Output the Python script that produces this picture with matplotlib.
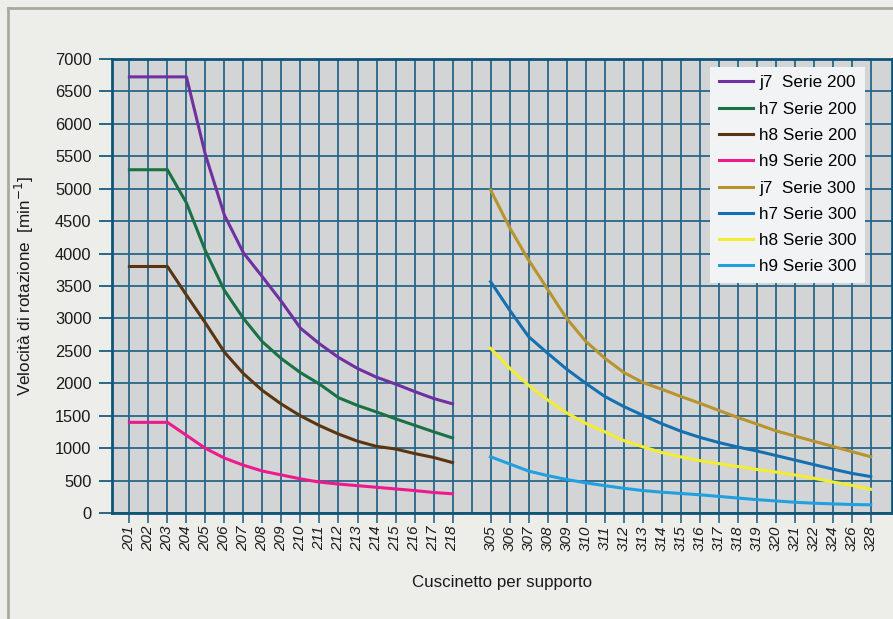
import matplotlib
matplotlib.use("Agg")
import matplotlib.pyplot as plt
from matplotlib.lines import Line2D

plt.rcParams['font.family'] = ['Liberation Sans', 'DejaVu Sans']

# bearing designations (x categories)
serie_200 = ['201', '202', '203', '204', '205', '206', '207', '208', '209',
             '210', '211', '212', '213', '214', '215', '216', '217', '218']
serie_300 = ['305', '306', '307', '308', '309', '310', '311', '312', '313',
             '314', '315', '316', '317', '318', '319', '320', '321', '322',
             '324', '326', '328']

# speeds [min^-1]
j7_200 = [6720, 6720, 6720, 6720, 5520, 4590, 4010, 3640, 3260, 2850,
          2610, 2400, 2230, 2095, 1990, 1875, 1768, 1685]
h7_200 = [5290, 5290, 5290, 4780, 4040, 3430, 3000, 2640, 2380, 2165,
          1990, 1780, 1660, 1560, 1455, 1355, 1255, 1160]
h8_200 = [3800, 3800, 3800, 3360, 2930, 2480, 2150, 1890, 1680, 1500,
          1350, 1220, 1110, 1030, 990, 920, 860, 780]
h9_200 = [1400, 1400, 1400, 1200, 1000, 850, 740, 650, 590, 530,
          480, 450, 425, 400, 375, 350, 320, 300]

j7_300 = [4980, 4400, 3900, 3450, 3000, 2650, 2390, 2170, 2015, 1910,
          1800, 1695, 1585, 1475, 1375, 1270, 1190, 1110, 1030, 950, 870]
h7_300 = [3567, 3130, 2720, 2465, 2220, 2003, 1800, 1645, 1510, 1380,
          1265, 1170, 1090, 1020, 960, 890, 820, 750, 680, 615, 565]
h8_300 = [2540, 2235, 1970, 1745, 1545, 1385, 1255, 1120, 1025, 935,
          868, 810, 765, 720, 675, 635, 590, 540, 482, 430, 370]
h9_300 = [870, 760, 650, 580, 520, 470, 425, 385, 350, 325,
          305, 285, 260, 235, 210, 190, 170, 155, 145, 135, 130]

x200 = list(range(len(serie_200)))
gap = len(serie_200) + 1          # one empty slot between the two series
x300 = [gap + i for i in range(len(serie_300))]

grid_col = '#2a6688'
frame_col = '#0e5578'
txt_col = '#1a1a1a'

fig = plt.figure(figsize=(8.93, 6.19), dpi=100, facecolor='#ededea')
ax = fig.add_axes([0.1251, 0.1708, 0.8734, 0.7344])
ax.set_facecolor('#d3d4d6')

# outer frame of the picture (left and top edges)
fig.add_artist(Line2D([0.0085, 0.0085], [0.0, 0.987], transform=fig.transFigure,
                      color='#a8aa9c', lw=2))
fig.add_artist(Line2D([0.0085, 1.0], [0.987, 0.987], transform=fig.transFigure,
                      color='#a8aa9c', lw=2))

lw = 2.2
ax.plot(x200, j7_200, color='#7030a0', lw=lw, label='j7  Serie 200', zorder=3)
ax.plot(x200, h7_200, color='#1a7244', lw=lw, label='h7 Serie 200', zorder=3)
ax.plot(x200, h8_200, color='#5a3512', lw=lw, label='h8 Serie 200', zorder=3)
ax.plot(x200, h9_200, color='#ec1a8c', lw=lw, label='h9 Serie 200', zorder=3)
ax.plot(x300, j7_300, color='#b8932e', lw=lw, label='j7  Serie 300', zorder=3)
ax.plot(x300, h7_300, color='#1570b2', lw=lw, label='h7 Serie 300', zorder=3)
ax.plot(x300, h8_300, color='#f2ec32', lw=lw, label='h8 Serie 300', zorder=3)
ax.plot(x300, h9_300, color='#21a0e0', lw=lw, label='h9 Serie 300', zorder=3)

ax.set_xlim(-0.93, x300[-1] + 1.1)
ax.set_ylim(0, 7000)

ax.set_xticks(x200 + x300)
ax.set_xticklabels(serie_200 + serie_300, rotation=90, fontsize=11,
                   style='italic', color=txt_col)
ax.set_xticks([gap - 1], minor=True)
ax.set_yticks(range(0, 7001, 500))
ax.tick_params(axis='y', length=9.5, width=1.4, color=grid_col, pad=5,
               labelsize=11.8, labelcolor=txt_col)
ax.tick_params(axis='x', which='major', length=7, width=1.2, color=grid_col,
               pad=2)
ax.tick_params(axis='x', which='minor', length=0)

ax.grid(True, which='both', color=grid_col, lw=1.3)
ax.set_axisbelow(True)
for sp in ax.spines.values():
    sp.set_color(frame_col)
    sp.set_linewidth(2)

ax.set_ylabel('Velocità di rotazione  [min$^{-1}$]', fontsize=12.3,
              color=txt_col, labelpad=14)
ax.set_xlabel('Cuscinetto per supporto', fontsize=12.2, color=txt_col,
              labelpad=17)

leg = ax.legend(loc='upper right', bbox_to_anchor=(0.966, 0.982),
                borderaxespad=0, fontsize=12.3, frameon=True, fancybox=False,
                handlelength=2.0, handletextpad=0.35, labelspacing=0.66,
                borderpad=0.5)
leg.get_frame().set_facecolor('#f2f3f4')
leg.get_frame().set_edgecolor('none')
leg.get_frame().set_alpha(1)

fig.savefig('out.png', dpi=100, facecolor=fig.get_facecolor())
